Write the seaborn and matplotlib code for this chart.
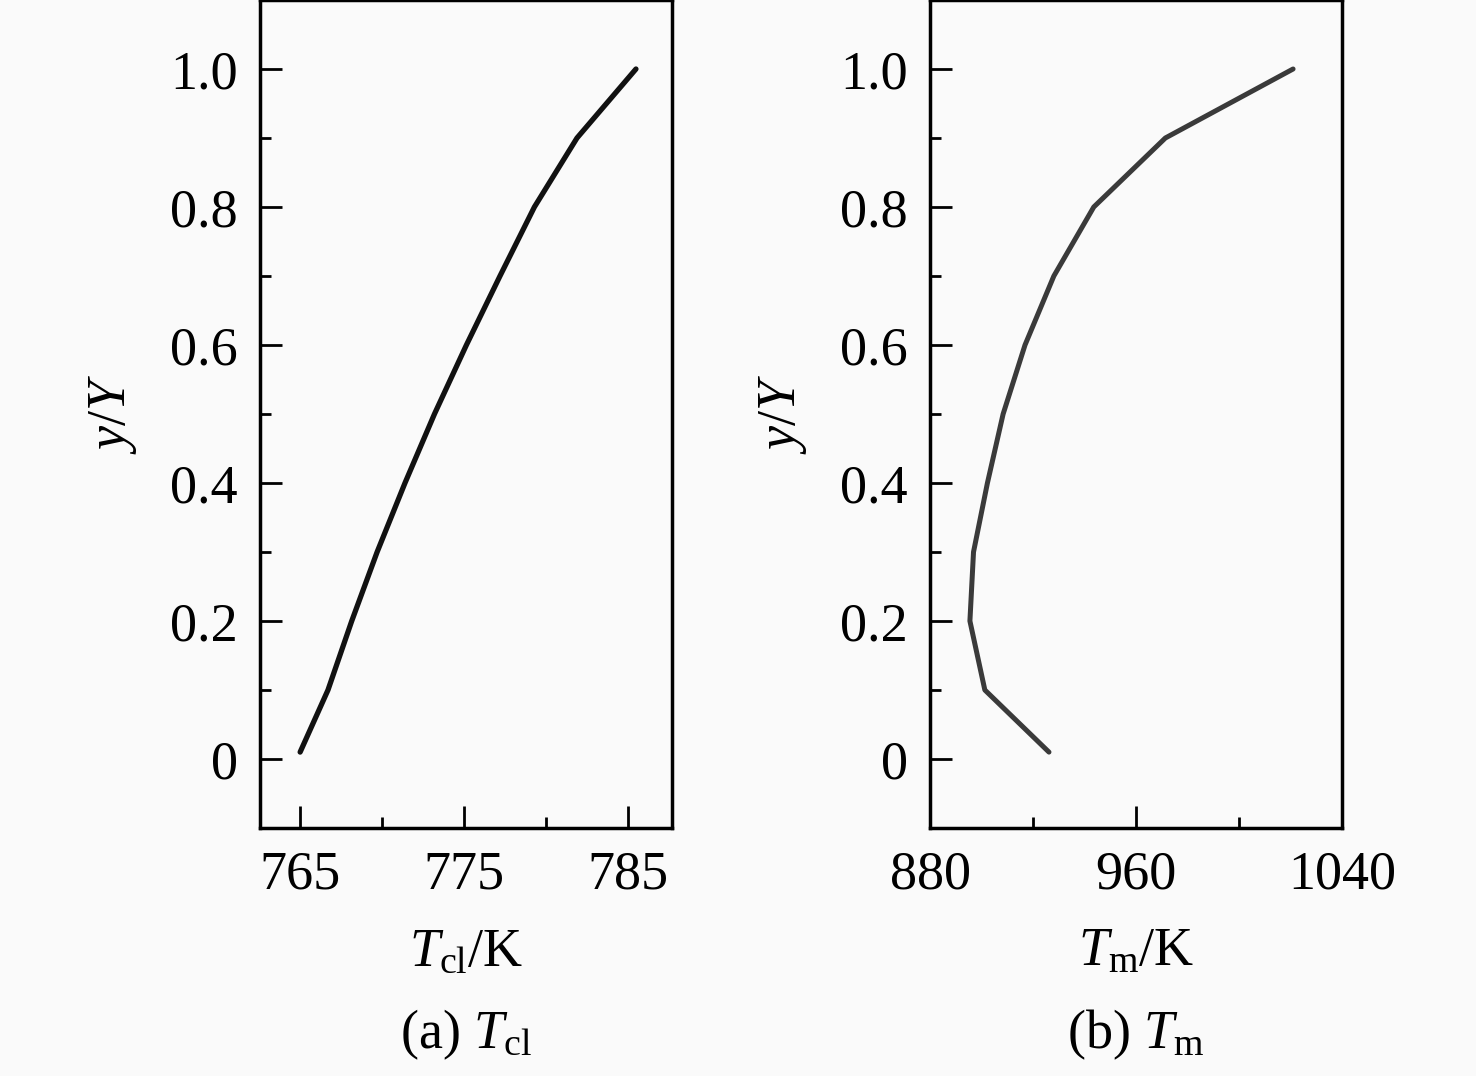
import matplotlib
matplotlib.use("Agg")
import matplotlib.pyplot as plt
import seaborn as sns
import pandas as pd
from matplotlib.ticker import FixedLocator

# Data
y_ratio = [0.01, 0.1, 0.2, 0.3, 0.4, 0.5, 0.6, 0.7, 0.8, 0.9, 1.0]
t_cl = [765.0, 766.7, 768.15, 769.7, 771.4, 773.2, 775.15, 777.2, 779.3, 781.9, 785.5]
t_m = [926.2, 901.3, 895.5, 896.9, 902.3, 908.4, 916.9, 928.1, 943.6, 971.4, 1021.0]

xticks_a = [765, 775, 785]
xminor_a = [770, 780]
xticks_b = [880, 960, 1040]
xminor_b = [920, 1000]
yticks = [0, 0.2, 0.4, 0.6, 0.8, 1.0]
ytick_labels = ["0", "0.2", "0.4", "0.6", "0.8", "1.0"]
yminor = [0.1, 0.3, 0.5, 0.7, 0.9]

sns.set_theme(style="ticks")
plt.rcParams["font.family"] = ["Liberation Serif", "DejaVu Serif"]
plt.rcParams["mathtext.fontset"] = "custom"
plt.rcParams["mathtext.rm"] = "Liberation Serif"
plt.rcParams["mathtext.it"] = "Liberation Serif:italic"
plt.rcParams["text.color"] = "black"
plt.rcParams["axes.labelcolor"] = "black"

df_a = pd.DataFrame({"x": t_cl, "y": y_ratio})
df_b = pd.DataFrame({"x": t_m, "y": y_ratio})

fig = plt.figure(figsize=(14.76, 10.76), dpi=100, facecolor="#fafafa")
ax1 = fig.add_axes([260 / 1476, 248 / 1076, 412 / 1476, 828 / 1076])
ax2 = fig.add_axes([930 / 1476, 248 / 1076, 412 / 1476, 828 / 1076])

fs = 39
sns.lineplot(data=df_a, x="x", y="y", sort=False, ax=ax1, color="#111111", linewidth=3.8)
sns.lineplot(data=df_b, x="x", y="y", sort=False, ax=ax2, color="#3a3a3a", linewidth=3.6)

configs = [
    (ax1, (762.55, 787.7), xticks_a, xminor_a, r"$T_{\mathrm{cl}}$/K", r"(a) $T_{\mathrm{cl}}$"),
    (ax2, (880, 1040), xticks_b, xminor_b, r"$T_{\mathrm{m}}$/K", r"(b) $T_{\mathrm{m}}$"),
]
for ax, xlim, xt, xm, xl, cap in configs:
    ax.set_facecolor("#fafafa")
    ax.set_xlim(*xlim)
    ax.set_ylim(-0.1, 1.1)
    ax.set_xticks(xt)
    ax.set_xticklabels([str(v) for v in xt])
    ax.xaxis.set_minor_locator(FixedLocator(xm))
    ax.set_yticks(yticks)
    ax.set_yticklabels(ytick_labels)
    ax.yaxis.set_minor_locator(FixedLocator(yminor))
    ax.tick_params(which="major", direction="in", length=16, width=2, labelsize=fs, pad=16,
                   colors="black", labelcolor="black")
    ax.tick_params(which="minor", direction="in", length=8, width=2, colors="black")
    for s in ax.spines.values():
        s.set_linewidth(2.5)
        s.set_color("black")
        s.set_visible(True)
    ax.set_xlabel(xl, fontsize=fs, labelpad=19, color="black")
    ax.set_ylabel(r"$y$/$Y$", fontsize=fs, labelpad=22, color="black")
    ax.text(0.5, -0.25, cap, transform=ax.transAxes, ha="center", va="center", fontsize=fs,
            color="black")

fig.savefig("out.png", dpi=100, facecolor=fig.get_facecolor())
